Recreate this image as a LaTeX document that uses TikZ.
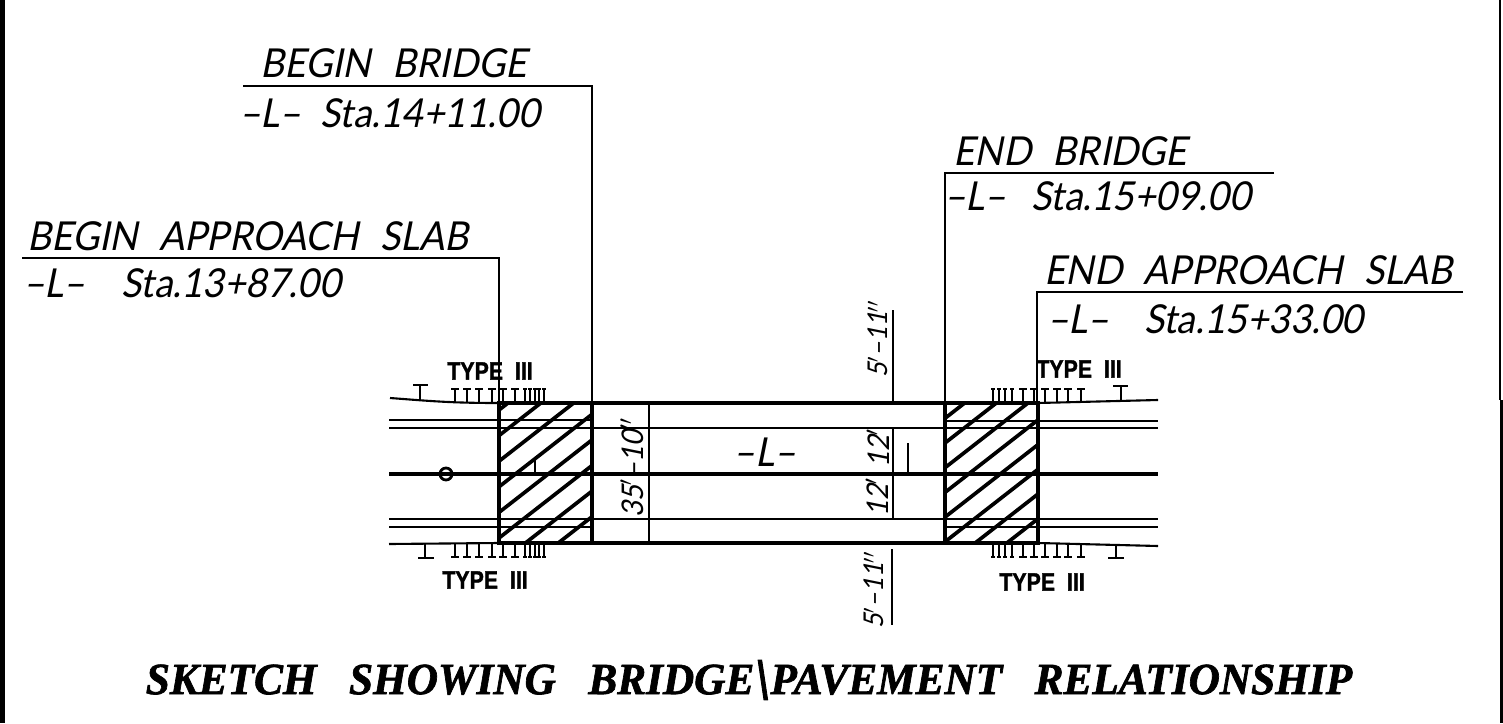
\documentclass[tikz,border=0pt]{standalone}
\usepackage{fontspec}
\setmainfont{Liberation Serif}
\setsansfont{Liberation Sans}
\newfontfamily\cadfont{Lato}[FakeSlant=0.2,FakeStretch=0.93]
\newfontfamily\typefont{Liberation Sans Bold}[FakeStretch=0.85,FakeBold=1.5]
\newfontfamily\titlefont{Liberation Serif Bold Italic}[FakeBold=1.5,FakeStretch=0.97]
\newcommand{\wgap}{\hskip 12.2pt}
\usetikzlibrary{positioning}

\begin{document}
\begin{tikzpicture}[
    x=0.02cm, y=-0.02cm,
    leadtext/.style={inner sep=0pt,anchor=base west,font=\cadfont\fontsize{22.7pt}{26pt}\selectfont},
    typelabel/.style={inner sep=0pt,font=\typefont\fontsize{14.3pt}{16pt}\selectfont},
    dimlabel/.style={inner sep=0pt,rotate=90,font=\cadfont\fontsize{17pt}{20pt}\selectfont},
    dimshort/.style={dimlabel,font=\cadfont\fontsize{15.5pt}{18pt}\selectfont},
    heavy/.style={line width=1.9pt},
    road/.style={line width=1.4pt},
    thin line/.style={line width=1.2pt},
    tick/.style={line width=1pt}
    ]
    \useasboundingbox (0,0) rectangle (1503,723);

    % frame
    \fill (0,0) rectangle (5,723);
    \fill (1499,0) rectangle (1501,400);
    \fill (1500,400) rectangle (1503,723);

    % leader text
    \node[leadtext] (bb) at (260,78) {BEGIN\wgap BRIDGE};
    \node[leadtext] (bbsta) at (239,127) {–L–\ \ Sta.14+11.00};
    \node[leadtext] (bas) at (27,250) {BEGIN\wgap APPROACH\wgap SLAB};
    \node[leadtext] (bassta) at (23,297) {–L–\ \ \hskip 9.7pt Sta.13+87.00};
    \node[leadtext] (eb) at (953,165) {END\wgap BRIDGE};
    \node[leadtext] (ebsta) at (944,210) {–L–\ \ \hskip 3.4pt Sta.15+09.00};
    \node[leadtext] (eas) at (1044,284) {END\wgap APPROACH\wgap SLAB};
    \node[leadtext] (eassta) at (1047,333) {–L–\ \ \hskip 9pt Sta.15+33.00};

    % slabs
    \coordinate (la) at (499,403);
    \coordinate (lb) at (592,543);
    \coordinate (ra) at (945,403);
    \coordinate (rb) at (1038,543);

    \begin{scope}
      \clip (la) rectangle (lb);
      \foreach \k in {0,...,7}
        \draw[line width=2.1pt] (499,{410+25.6*\k}) -- (592,{410+25.6*\k-72.5});
    \end{scope}
    \begin{scope}
      \clip (ra) rectangle (rb);
      \foreach \k in {0,...,7}
        \draw[line width=2.1pt] (945,{418.3+24.7*\k}) -- (1038,{418.3+24.7*\k-72.5});
    \end{scope}

    % road lines
    \draw[road] (389,420) -- (592,420) (389,428) -- (1158,428) (945,421) -- (1158,421);
    \draw[line width=1.9pt] (389,474) -- (1158,474);
    \draw[road] (389,519) -- (1158,519);
    \draw[road] (389,527) -- (592,527) (945,527) -- (1158,527);
    \draw[heavy] (592,403) -- (945,403) (592,543) -- (945,543);
    \draw[line width=1.6pt] (446,474) circle (6);

    % pavement edges
    \draw[thin line] (390,398) .. controls (430,401) and (450,403) .. (la);
    \draw[thin line] (389,544) -- (499,543);
    \draw[thin line] (1038,403) -- (1158,400);
    \draw[thin line] (1038,543) -- (1158,546);

    % guardrail ticks
    \foreach \x in {455,467,479,492,503,515}{
      \draw[tick] (\x,403) -- (\x,389) ++(-4,0) -- ++(8,0);
      \draw[tick] (\x,543) -- (\x,557) ++(-4,0) -- ++(8,0);
    }
    \foreach \x in {525,530,535,539,544}{
      \draw[tick] (\x,403) -- (\x,389) ++(-2,0) -- ++(4,0);
      \draw[tick] (\x,543) -- (\x,557) ++(-2,0) -- ++(4,0);
    }
    \foreach \x in {993,999,1005,1012}{
      \draw[tick] (\x,403) -- (\x,389) ++(-2,0) -- ++(4,0);
      \draw[tick] (\x,543) -- (\x,557) ++(-2,0) -- ++(4,0);
    }
    \foreach \x in {1023,1034,1045,1057,1068,1081}{
      \draw[tick] (\x,403) -- (\x,389) ++(-4,0) -- ++(8,0);
      \draw[tick] (\x,543) -- (\x,557) ++(-4,0) -- ++(8,0);
    }
    \draw[tick] (420,400) -- (420,385) (413,385) -- (428,385);
    \draw[tick] (425,543) -- (425,558) (418,558) -- (434,558);
    \draw[tick] (1121,401) -- (1121,386) (1113,386) -- (1128,386);
    \draw[tick] (1116,544) -- (1116,558) (1108,558) -- (1124,558);

    % leaders
    \draw[thin line] (243,86) -- (592,86) -- (592,403);
    \draw[thin line] (22,258) -- (499,258) -- (499,403);
    \draw[thin line] (1274,173) -- (945,173) -- (945,403);
    \draw[thin line] (1463,292) -- (1037,292) -- (1037,403);

    % slab outlines
    \draw[line width=2.5pt] (la) rectangle (lb);
    \draw[line width=2.5pt] (ra) rectangle (rb);

    % dimension lines
    \draw[tick] (649,403) -- (649,543);
    \draw[tick] (893,310) -- (893,403);
    \draw[tick] (893,428) -- (893,519);
    \draw[tick] (892,549) -- (892,625);
    \draw[line width=1.5pt] (908,443) -- (908,474);
    \draw[tick] (535,459) -- (535,474);

    \node[dimshort] (dimtop) at (878,339) {5$'$–11$''$};
    \node[dimlabel] (dimup) at (878,448) {12$'$};
    \node[dimlabel] (dimlow) at (877,497) {12$'$};
    \node[dimshort] (dimbot) at (874,590) {5$'$–11$''$};
    \node[dimlabel] (dimwidth) at (632,468) {35$'$–10$''$};
    \node[leadtext,anchor=center] (ctr) at (765,452) {–L–};

    % type labels
    \node[typelabel] (tl) at (490,371) {TYPE\ \ III};
    \node[typelabel] (tr) at (1079,369) {TYPE\ \ III};
    \node[typelabel] (bl) at (485,580) {TYPE\ \ III};
    \node[typelabel] (br) at (1042,582) {TYPE\ \ III};

    \node[inner sep=0pt,font=\titlefont\fontsize{25.4pt}{30pt}\selectfont] (title) at (749,680)
      {SKETCH\ \ \ SHOWING\ \ \ BRIDGE\raisebox{-3pt}{\fontsize{34pt}{34pt}\selectfont\textbackslash}PAVEMENT\ \ \ RELATIONSHIP};
\end{tikzpicture}
\end{document}
